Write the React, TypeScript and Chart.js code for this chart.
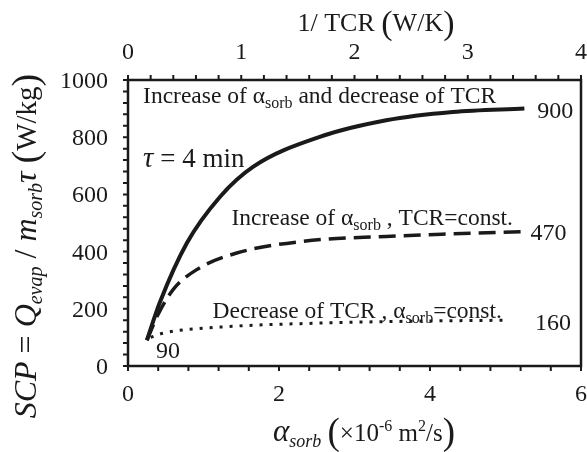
import React, { useEffect, useRef } from 'react';
import { Chart, registerables } from 'chart.js';

Chart.register(...registerables);

const W = 587;
const H = 452;
const INK = '#1a1a1a';
const SERIF = '"Liberation Serif", "DejaVu Serif", serif';

// SCP (W/kg) against sorbent thermal diffusivity α_sorb (×10^-6 m²/s)
const bothX = [0.25, 0.42, 0.78, 1.22, 1.66, 2.54, 3.42, 4.3, 5.25];
const bothY = [90, 221, 430, 592, 697, 801, 859, 888, 900];
const alphaOnlyX = [0.25, 0.4, 0.6, 0.91, 1.44, 2.32, 3.42, 4.3, 5.25];
const alphaOnlyY = [90, 181, 268, 337, 395, 436, 453, 462, 470];
const tcrOnlyX = [0.3, 0.47, 1.22, 2.54, 3.86, 5.0];
const tcrOnlyY = [100, 115, 136, 150, 157, 160];

const bottomTicks = [0, 2, 4, 6];
const topTicks = [0, 1, 2, 3, 4];
const leftTicks = [0, 200, 400, 600, 800, 1000];

type Seg = { t: string; size: number; italic?: boolean; dy?: number };

const toPoints = (xs: number[], ys: number[]) => xs.map((x, i) => ({ x, y: ys[i] }));

function fontOf(s: Seg) {
  return `${s.italic ? 'italic ' : ''}${s.size}px ${SERIF}`;
}

function richWidth(ctx: CanvasRenderingContext2D, segs: Seg[]) {
  let w = 0;
  for (const s of segs) {
    ctx.font = fontOf(s);
    w += ctx.measureText(s.t).width;
  }
  return w;
}

// draws a run of styled pieces; (x, y) is the baseline anchor
function drawRich(
  ctx: CanvasRenderingContext2D,
  segs: Seg[],
  x: number,
  y: number,
  align: 'left' | 'center' | 'right',
) {
  const w = richWidth(ctx, segs);
  let cx = x + (align === 'center' ? -w / 2 : align === 'right' ? -w : 0);
  ctx.textAlign = 'left';
  ctx.textBaseline = 'alphabetic';
  for (const s of segs) {
    ctx.font = fontOf(s);
    ctx.fillText(s.t, cx, y + (s.dy || 0));
    cx += ctx.measureText(s.t).width;
  }
}

const leftTitle: Seg[] = [
  { t: 'SCP', size: 32, italic: true },
  { t: ' = ', size: 32 },
  { t: 'Q', size: 32, italic: true },
  { t: 'evap', size: 20, italic: true, dy: 6 },
  { t: ' / ', size: 32 },
  { t: 'm', size: 32, italic: true },
  { t: 'sorb', size: 20, italic: true, dy: 6 },
  { t: 'τ ', size: 32, italic: true },
  { t: '(', size: 38, dy: 2 },
  { t: 'W/kg', size: 29 },
  { t: ')', size: 38, dy: 2 },
];

const bottomTitle: Seg[] = [
  { t: 'α', size: 31, italic: true },
  { t: 'sorb', size: 18, italic: true, dy: 6 },
  { t: ' ', size: 25 },
  { t: '(', size: 37, dy: 3 },
  { t: '×10', size: 25 },
  { t: '-6', size: 16, dy: -10 },
  { t: ' m', size: 25 },
  { t: '2', size: 16, dy: -10 },
  { t: '/s', size: 25 },
  { t: ')', size: 37, dy: 3 },
];

const topTitle: Seg[] = [
  { t: '1/ TCR ', size: 26 },
  { t: '(', size: 34, dy: 3 },
  { t: 'W/K', size: 26 },
  { t: ')', size: 34, dy: 3 },
];

const alphaSorb = (size: number): Seg[] => [
  { t: 'α', size },
  { t: 'sorb', size: Math.round(size * 0.66), dy: 5 },
];

// in-plot notes, anchored in data units (x, y = left edge, baseline)
const notes: { x: number; y: number; segs: Seg[] }[] = [
  { x: 0.2, y: 920, segs: [{ t: 'Increase of ', size: 23.5 }, ...alphaSorb(23.5), { t: ' and decrease of TCR', size: 23.5 }] },
  { x: 0.2, y: 696, segs: [{ t: 'τ', size: 29, italic: true }, { t: ' = 4 min', size: 27 }] },
  { x: 1.37, y: 493, segs: [{ t: 'Increase of ', size: 23.5 }, ...alphaSorb(23.5), { t: ' , TCR=const.', size: 23.5 }] },
  { x: 1.12, y: 168, segs: [{ t: 'Decrease of TCR , ', size: 23.5 }, ...alphaSorb(23.5), { t: '=const.', size: 23.5 }] },
  { x: 5.42, y: 867, segs: [{ t: '900', size: 24 }] },
  { x: 5.33, y: 440, segs: [{ t: '470', size: 24 }] },
  { x: 5.39, y: 126, segs: [{ t: '160', size: 24 }] },
  { x: 0.37, y: 28, segs: [{ t: '90', size: 24 }] },
];

const TICK_SIZE = 24;

const framePlugin = {
  id: 'frameAndText',
  afterDraw(chart: any) {
    const { ctx, chartArea: a, scales } = chart;
    const xs = scales.x;
    const xt = scales.x2;
    const ys = scales.y;
    ctx.save();
    ctx.strokeStyle = INK;
    ctx.fillStyle = INK;
    ctx.lineWidth = 2.5;
    ctx.strokeRect(a.left, a.top, a.right - a.left, a.bottom - a.top);

    // outward tick marks, majors and minors alike
    ctx.lineWidth = 2;
    const tl = 5;
    ctx.beginPath();
    for (let i = 0; i <= 15; i++) {
      const px = xs.getPixelForValue(i * 0.4);
      ctx.moveTo(px, a.bottom);
      ctx.lineTo(px, a.bottom + tl);
    }
    for (let i = 0; i <= 20; i++) {
      const px = xt.getPixelForValue(i * 0.2);
      ctx.moveTo(px, a.top);
      ctx.lineTo(px, a.top - tl);
    }
    for (let i = 0; i <= 25; i++) {
      const py = ys.getPixelForValue(i * 40);
      ctx.moveTo(a.left, py);
      ctx.lineTo(a.left - tl, py);
    }
    ctx.stroke();

    // tick labels
    for (const v of bottomTicks) {
      drawRich(ctx, [{ t: String(v), size: TICK_SIZE }], xs.getPixelForValue(v), a.bottom + 35, 'center');
    }
    for (const v of topTicks) {
      drawRich(ctx, [{ t: String(v), size: TICK_SIZE }], xt.getPixelForValue(v), a.top - 21, 'center');
    }
    for (const v of leftTicks) {
      drawRich(ctx, [{ t: String(v), size: TICK_SIZE }], a.left - 20, ys.getPixelForValue(v) + 8, 'right');
    }

    for (const n of notes) {
      drawRich(ctx, n.segs, xs.getPixelForValue(n.x), ys.getPixelForValue(n.y), 'left');
    }

    drawRich(ctx, topTitle, 376, 31, 'center');
    drawRich(ctx, bottomTitle, 364, 441, 'center');

    ctx.translate(36, 246);
    ctx.rotate(-Math.PI / 2);
    drawRich(ctx, leftTitle, 0, 0, 'center');
    ctx.restore();
  },
};

const hiddenTicks = { display: false };

export default function App() {
  const ref = useRef<HTMLCanvasElement | null>(null);

  useEffect(() => {
    if (!ref.current) return;
    const line = (xs: number[], ys: number[], width: number, dash: number[]) => ({
      data: toPoints(xs, ys),
      showLine: true,
      borderColor: INK,
      backgroundColor: INK,
      borderWidth: width,
      borderDash: dash,
      borderCapStyle: 'butt' as const,
      cubicInterpolationMode: 'monotone' as const,
      pointRadius: 0,
      xAxisID: 'x',
      yAxisID: 'y',
    });
    const chart = new Chart(ref.current, {
      type: 'scatter',
      data: {
        datasets: [
          line(bothX, bothY, 4, []),
          line(alphaOnlyX, alphaOnlyY, 3.5, [17, 8]),
          line(tcrOnlyX, tcrOnlyY, 3, [3, 7]),
        ],
      },
      options: {
        responsive: false,
        animation: false,
        events: [],
        layout: { padding: { left: 0, right: 6, top: 0, bottom: 0 } },
        plugins: { legend: { display: false }, tooltip: { enabled: false } },
        scales: {
          x: {
            type: 'linear',
            position: 'bottom',
            min: 0,
            max: 6,
            afterFit: (s: any) => { s.height = 86; },
            grid: { display: false },
            border: { display: false },
            ticks: hiddenTicks,
          },
          x2: {
            type: 'linear',
            position: 'top',
            min: 0,
            max: 4,
            afterFit: (s: any) => { s.height = 80; },
            grid: { display: false },
            border: { display: false },
            ticks: hiddenTicks,
          },
          y: {
            type: 'linear',
            position: 'left',
            min: 0,
            max: 1000,
            afterFit: (s: any) => { s.width = 128; },
            grid: { display: false },
            border: { display: false },
            ticks: hiddenTicks,
          },
        },
      },
      plugins: [framePlugin],
    });
    return () => chart.destroy();
  }, []);

  return (
    <div style={{ position: 'fixed', left: 0, top: 0, width: W, height: H, background: '#fff' }}>
      <canvas ref={ref} width={W} height={H} style={{ display: 'block', width: W, height: H }} />
    </div>
  );
}
